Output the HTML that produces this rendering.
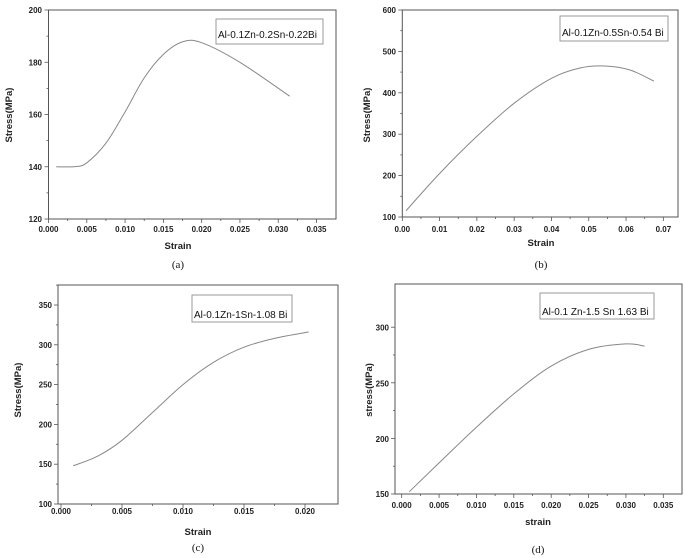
<!DOCTYPE html>
<html><head><meta charset="utf-8"><style>
html,body{margin:0;padding:0;background:#fff;}
svg{display:block;font-family:"Liberation Sans",Arial,sans-serif;}
.t{font-size:8px;font-weight:bold;fill:#222;}
.lab{font-size:9.5px;font-weight:bold;fill:#222;}
.cap{font-family:"Liberation Serif",serif;font-size:11px;fill:#111;}
.leg{font-size:10px;fill:#111;}
</style></head><body>
<svg id="s" width="685" height="558" viewBox="0 0 685 558" xmlns="http://www.w3.org/2000/svg">
<g fill="none" stroke="#555" stroke-width="1">
<rect x="48.5" y="10" width="287.5" height="209"/>
<rect x="402.3" y="10" width="275.7" height="207"/>
<rect x="58" y="285" width="280" height="219"/>
<rect x="395" y="284" width="287" height="210"/>
</g>
<g id="ticks" stroke="#555" stroke-width="0.8"></g>
<g id="curves" fill="none" stroke="#888" stroke-width="1"></g>
<g fill="#fff" stroke="#999" stroke-width="1">
<rect x="216" y="19" width="107" height="25"/>
<rect x="560" y="16" width="108" height="25"/>
<rect x="192" y="295" width="100" height="27"/>
<rect x="540" y="293" width="114" height="26"/>
</g>
<text class="leg" x="218" y="38">Al-0.1Zn-0.2Sn-0.22Bi</text>
<text class="leg" x="562" y="36">Al-0.1Zn-0.5Sn-0.54 Bi</text>
<text class="leg" x="194" y="318">Al-0.1Zn-1Sn-1.08 Bi</text>
<text class="leg" x="542" y="315">Al-0.1 Zn-1.5 Sn 1.63 Bi</text>
<g class="t" text-anchor="middle">
<text x="48.5" y="232">0.000</text><text x="86.8" y="232">0.005</text><text x="125.1" y="232">0.010</text><text x="163.4" y="232">0.015</text><text x="201.6" y="232">0.020</text><text x="239.9" y="232">0.025</text><text x="278.2" y="232">0.030</text><text x="316.5" y="232">0.035</text>
<text x="402.3" y="232">0.00</text><text x="439.6" y="232">0.01</text><text x="476.9" y="232">0.02</text><text x="514.2" y="232">0.03</text><text x="551.5" y="232">0.04</text><text x="588.8" y="232">0.05</text><text x="626.1" y="232">0.06</text><text x="663.4" y="232">0.07</text>
<text x="61" y="514">0.000</text><text x="122" y="514">0.005</text><text x="183" y="514">0.010</text><text x="244" y="514">0.015</text><text x="305" y="514">0.020</text>
<text x="401.7" y="508">0.000</text><text x="439.1" y="508">0.005</text><text x="476.4" y="508">0.010</text><text x="513.8" y="508">0.015</text><text x="551.2" y="508">0.020</text><text x="588.6" y="508">0.025</text><text x="625.9" y="508">0.030</text><text x="663.3" y="508">0.035</text>
</g>
<g class="t" text-anchor="end">
<text x="42" y="13">200</text><text x="42" y="65.3">180</text><text x="42" y="117.5">160</text><text x="42" y="169.8">140</text><text x="42" y="222">120</text>
<text x="396" y="13">600</text><text x="396" y="54.4">500</text><text x="396" y="95.8">400</text><text x="396" y="137.2">300</text><text x="396" y="178.6">200</text><text x="396" y="220">100</text>
<text x="52" y="308">350</text><text x="52" y="347.8">300</text><text x="52" y="387.6">250</text><text x="52" y="427.4">200</text><text x="52" y="467.2">150</text><text x="52" y="507">100</text>
<text x="389" y="330.7">300</text><text x="389" y="386.3">250</text><text x="389" y="442">200</text><text x="389" y="497">150</text>
</g>
<g class="lab" text-anchor="middle">
<text x="178" y="249">Strain</text>
<text x="541" y="246">Strain</text>
<text x="198" y="535">Strain</text>
<text x="538" y="525">strain</text>
<text transform="translate(12,115) rotate(-90)">Stress(MPa)</text>
<text transform="translate(370,115) rotate(-90)">Stress(MPa)</text>
<text transform="translate(21,390) rotate(-90)">Stress(MPa)</text>
<text transform="translate(372,390) rotate(-90)">stress(MPa)</text>
</g>
<g class="cap" text-anchor="middle">
<text x="178" y="268">(a)</text>
<text x="541" y="268">(b)</text>
<text x="198" y="551">(c)</text>
<text x="538" y="553">(d)</text>
</g>
</svg>
<script>
var NS="http://www.w3.org/2000/svg";
var tk=document.getElementById('ticks'),cv=document.getElementById('curves');
function L(x1,y1,x2,y2){var l=document.createElementNS(NS,'line');l.setAttribute('x1',x1);l.setAttribute('y1',y1);l.setAttribute('x2',x2);l.setAttribute('y2',y2);tk.appendChild(l);}
function ax(lx,by,rx,ty,x0,dx,nx,y0,dy,ny){
 for(var i=0;i<=nx*2;i++){var x=x0+dx*i/2;if(x<lx-0.5||x>rx+0.5)continue;L(x,by,x,by+(i%2?2:4));}
 for(var j=0;j<=ny*2;j++){var y=y0-dy*j/2;if(y<ty-0.5||y>by+0.5)continue;L(lx,y,lx-(j%2?2:4),y);}
}
ax(48.5,219,336,10,48.5,38.29,7,219,52.25,4);
ax(402.3,217,678,10,402.3,37.29,7,217,41.4,5);
ax(58,504,338,285,61,61,4,504,39.8,6);
ax(395,494,682,284,401.7,37.37,7,494,55.6,3);
function curve(p){var d="M"+p[0][0]+","+p[0][1];
 for(var i=0;i<p.length-1;i++){var p0=p[i-1]||p[i],p1=p[i],p2=p[i+1],p3=p[i+2]||p2;
  d+=" C"+(p1[0]+(p2[0]-p0[0])/6)+","+(p1[1]+(p2[1]-p0[1])/6)+" "+(p2[0]-(p3[0]-p1[0])/6)+","+(p2[1]-(p3[1]-p1[1])/6)+" "+p2[0]+","+p2[1];}
 var e=document.createElementNS(NS,'path');e.setAttribute('d',d);cv.appendChild(e);}
curve([[56.2,166.8],[75.3,166.6],[86.8,162.8],[105.9,143.2],[125.1,111.9],[144.2,77.9],[163.4,54.4],[182.5,41.9],[201.6,42.7],[239.9,62.3],[289.7,96.2]]);
curve([[406,210.8],[439.6,173.5],[476.9,136.3],[514.2,103.2],[551.5,78.3],[580,68],[605,66],[630,70],[654,81.2]]);
curve([[73.2,465.8],[97.6,456.2],[122,440.3],[152.5,412.5],[183,384.6],[213.5,362.3],[244,347.2],[274.5,338.4],[308.7,332]]);
curve([[409.2,491.8],[439.1,462.9],[476.4,427.3],[513.8,393.9],[551.2,366.1],[588.6,349.4],[625.9,343.9],[644.6,346.1]]);
</script>
</body></html>
